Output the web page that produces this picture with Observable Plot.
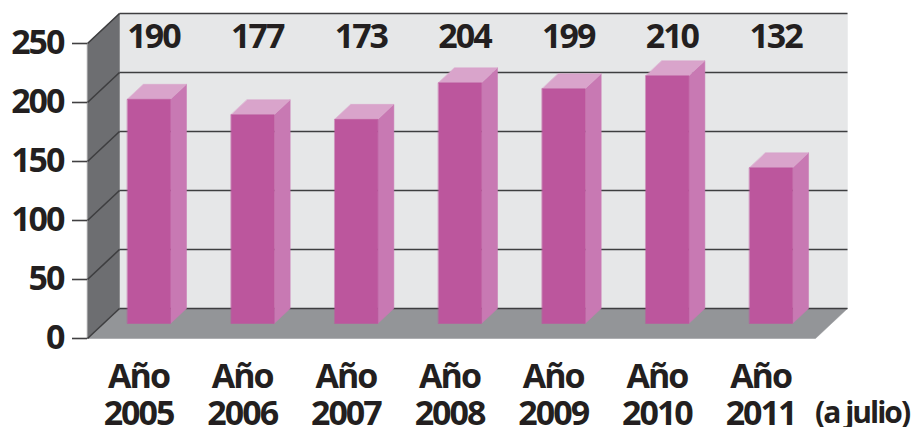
<!DOCTYPE html>
<html>
<head>
<meta charset="utf-8">
<script src="https://cdn.jsdelivr.net/npm/d3@7"></script>
<script src="https://cdn.jsdelivr.net/npm/@observablehq/plot@0.6"></script>
<style>
  html, body { margin: 0; padding: 0; background: #ffffff; }
  #chart svg text { letter-spacing: -2px; }
  #chart svg text.note { letter-spacing: -1.5px; }
</style>
</head>
<body>
<div id="chart"></div>
<script>
// ---- data ----
const years = ["2005", "2006", "2007", "2008", "2009", "2010", "2011"];
const values = [190, 177, 173, 204, 199, 210, 132];
const yTicks = [0, 50, 100, 150, 200, 250];
const prefix = "Año";
const note = "(a julio)";

// ---- 3D geometry (data units: x = category slots, y = value units) ----
const yMax = 250;
const xMax = years.length + 0.022;
const depthX = 0.3087;   // full depth, x units
const depthY = 25.42;    // full depth, value units
const barZ = 0.5;        // bars start halfway into the depth
const barX0 = 0.2315;    // bar left offset within slot (front plane)
const barW = 0.4148;     // bar width
const dzx = barZ * depthX, dzy = barZ * depthY;

const colors = {
  wall: "#e6e7e8", side: "#6d6e71", floor: "#939598", grid: "#3e3e40",
  front: "#bc569d", barSide: "#c879b3", barTop: "#d9a4cb", text: "#231f20"
};

function poly(id, pts) { return pts.map(([x, y]) => ({id, x, y})); }

const backWall = poly("back", [[depthX, depthY], [xMax + depthX, depthY], [xMax + depthX, yMax + depthY], [depthX, yMax + depthY]]);
const leftWall = poly("left", [[0, 0], [depthX, depthY], [depthX, yMax + depthY], [0, yMax]]);
const floor = poly("floor", [[0, 0], [xMax, 0], [xMax + depthX, depthY], [depthX, depthY]]);

const gridBack = yTicks.flatMap(v => [{id: v, x: depthX, y: v + depthY}, {id: v, x: xMax + depthX, y: v + depthY}]);
const gridDiag = yTicks.flatMap(v => [{id: v, x: 0, y: v}, {id: v, x: depthX, y: v + depthY}]);

const fronts = [], sides = [], tops = [];
values.forEach((v, i) => {
  const xl = i + barX0 + dzx, xr = xl + barW;
  const y0 = dzy, yt = v + dzy;
  fronts.push(...poly(i, [[xl, y0], [xr, y0], [xr, yt], [xl, yt]]));
  sides.push(...poly(i, [[xr, y0], [xr + dzx, y0 + dzy], [xr + dzx, yt + dzy], [xr, yt]]));
  tops.push(...poly(i, [[xl, yt], [xr, yt], [xr + dzx, yt + dzy], [xl + dzx, yt + dzy]]));
});

const labelRows = values.map((v, i) => ({i, v, year: years[i]}));
const frontCenter = i => i + barX0 + dzx + barW / 2;

const font = {fontFamily: "'Open Sans', sans-serif", fontWeight: 700};

const fillPoly = (data, fill) => Plot.line(data, {x: "x", y: "y", z: "id", fill, stroke: fill, strokeWidth: 0.5, curve: "linear-closed"});

const chart = Plot.plot({
  width: 911,
  height: 427,
  marginLeft: 87,
  marginRight: 96,
  marginTop: 43,
  marginBottom: 89,
  x: {type: "linear", domain: [0, xMax], axis: null},
  y: {domain: [0, yMax], axis: null},
  style: {fontFamily: "'Open Sans', sans-serif", color: colors.text, background: "#ffffff", overflow: "visible"},
  marks: [
    fillPoly(backWall, colors.wall),
    fillPoly(leftWall, colors.side),
    fillPoly(floor, colors.floor),
    Plot.line(gridBack, {x: "x", y: "y", z: "id", stroke: colors.grid, strokeWidth: 1.6, strokeLinecap: "butt"}),
    Plot.line(gridDiag, {x: "x", y: "y", z: "id", stroke: colors.grid, strokeWidth: 1.6, strokeLinecap: "butt"}),
    fillPoly(sides, colors.barSide),
    fillPoly(tops, colors.barTop),
    fillPoly(fronts, colors.front),
    Plot.axisY(yTicks, {tickSize: 15, tickPadding: 9, stroke: "#414042", strokeWidth: 1.6, fill: colors.text, fontSize: 34, ...font, label: null}),
    Plot.text(labelRows, {x: d => frontCenter(d.i), dx: 4.5, frameAnchor: "top", dy: -6, lineAnchor: "middle", text: d => String(d.v), fill: colors.text, fontSize: 34, ...font}),
    Plot.text(labelRows, {x: d => frontCenter(d.i), dx: -10.5, frameAnchor: "bottom", lineAnchor: "top", dy: 23, lineHeight: 1.09, text: d => prefix + "\n" + d.year, fill: colors.text, fontSize: 34, ...font}),
    Plot.text([note], {x: () => frontCenter(years.length - 1), dx: 44, frameAnchor: "bottom", lineAnchor: "top", dy: 63, textAnchor: "start", text: d => d, fill: colors.text, fontSize: 30, className: "note", ...font})
  ]
});
document.getElementById("chart").appendChild(chart);
</script>
</body>
</html>
